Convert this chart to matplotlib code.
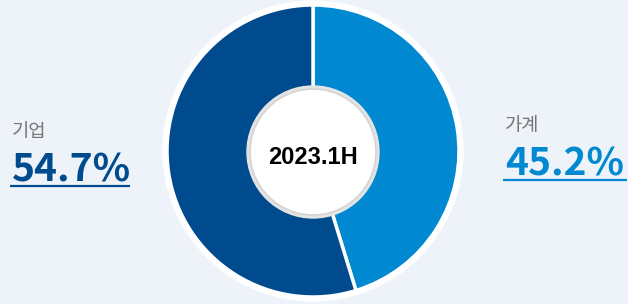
import matplotlib.pyplot as plt
from matplotlib.patches import Circle

plt.rcParams['font.family'] = ['Noto Sans CJK KR', 'DejaVu Sans']

# data
labels = ["가계", "기업"]
shares = [45.2, 54.7]
colors = ["#0089d1", "#004b8d"]
period = "2023.1H"

bg = "#eef3fa"
W, H = 628, 304

fig = plt.figure(figsize=(W / 100, H / 100), dpi=100, facecolor=bg)
ax = fig.add_axes([0, 0, 1, 1])

cx, cy = 313, H - 151

# white halo behind the pie
ax.add_patch(Circle((cx, cy), 150, color="white", zorder=1))
ax.pie(shares, colors=colors, startangle=90, counterclock=False,
       center=(cx, cy), radius=146, frame=True,
       wedgeprops=dict(edgecolor="white", linewidth=2.5, zorder=2))
ax.set_xlim(0, W)
ax.set_ylim(0, H)
ax.set_aspect("auto")
ax.axis("off")

# inner circle
ax.add_patch(Circle((cx, H - 152), 66, color="#e4e4e4", zorder=3))
ax.add_patch(Circle((cx, H - 152), 63, facecolor="white", edgecolor="#d4d4d4",
                    linewidth=1.2, zorder=4))
ax.text(cx, H - 157, period, ha="center", va="center", fontsize=17,
        fontweight="bold", family="Liberation Sans", color="black", zorder=5)

# side labels
def side_label(x, name, value, color, name_y, val_base, line_y, x1):
    ax.text(x, H - name_y, name, ha="left", va="center", fontsize=13.5,
            color="#767676")
    ax.text(x, H - val_base, f"{value}%", ha="left", va="baseline",
            fontsize=28, fontweight="bold", color=color)
    ax.plot([x - 2, x1], [H - line_y, H - line_y], color=color, lw=1.6,
            solid_capstyle="butt")

side_label(12, labels[1], shares[1], colors[1], 132, 182, 185.5, 130)
side_label(505, labels[0], shares[0], colors[0], 126, 175, 179.5, 627)

fig.savefig("out.png", dpi=100, facecolor=bg)
